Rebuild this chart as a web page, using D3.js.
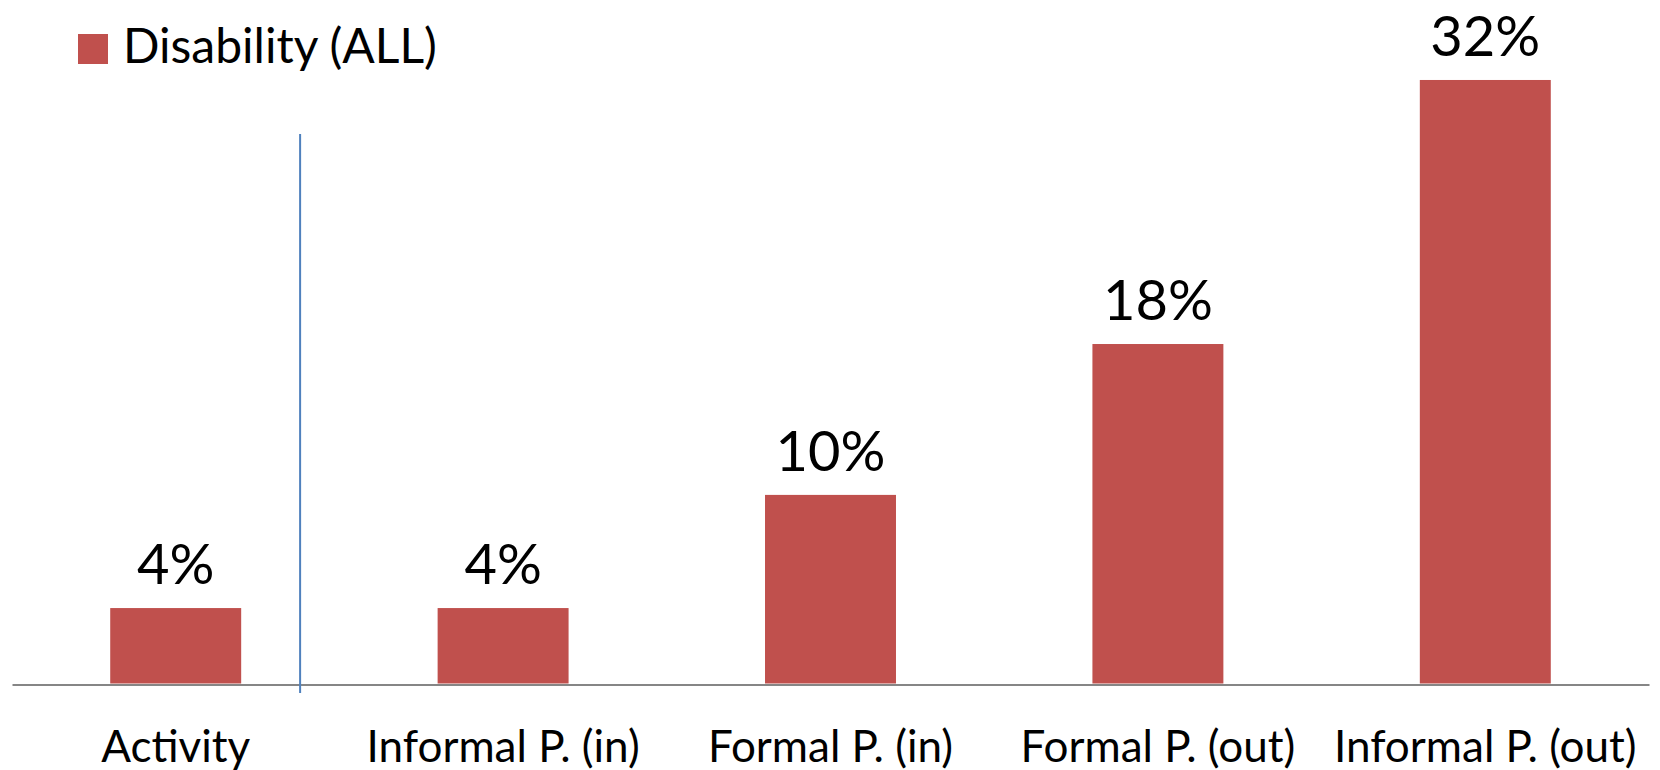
<!DOCTYPE html>
<html>
<head>
<meta charset="utf-8">
<script src="https://cdn.jsdelivr.net/npm/d3@7"></script>
<style>
  html, body { margin: 0; padding: 0; background: #ffffff; }
  svg { display: block; }
  text { font-family: Lato, "Open Sans", sans-serif; fill: #000; }
</style>
</head>
<body>
<svg id="chart" width="1660" height="770"></svg>
<script>
// Share of people with a disability, by activity / participation type
const categories = ["Activity", "Informal P. (in)", "Formal P. (in)", "Formal P. (out)", "Informal P. (out)"];
const values = [4, 4, 10, 18, 32];
const valueLabels = ["4%", "4%", "10%", "18%", "32%"];
const seriesName = "Disability (ALL)";

const W = 1660, H = 770;
const baseY = 683.5;
const barColor = "#C0504D";

const svg = d3.select("#chart");

const x = d3.scaleBand()
  .domain(categories)
  .range([12, 1649])
  .padding(0);

const y = d3.scaleLinear()
  .domain([0, 35])
  .range([baseY, baseY - 35 * 18.86]);

const barW = x.bandwidth() * 0.4;

// bars
svg.append("g")
  .selectAll("rect")
  .data(categories)
  .join("rect")
  .attr("x", d => x(d) + (x.bandwidth() - barW) / 2)
  .attr("y", (d, i) => y(values[i]))
  .attr("width", barW)
  .attr("height", (d, i) => y(0) - y(values[i]))
  .attr("fill", barColor);

// value labels above bars
svg.append("g")
  .selectAll("text")
  .data(categories)
  .join("text")
  .attr("x", d => x(d) + x.bandwidth() / 2)
  .attr("y", (d, i) => y(values[i]) - 24)
  .attr("text-anchor", "middle")
  .style("font-size", "56px")
  .text((d, i) => valueLabels[i]);

// category axis along the baseline
const xAxis = svg.append("g")
  .attr("transform", `translate(0,${y(0) + 1})`)
  .call(d3.axisBottom(x).tickSize(0).tickPadding(0));
xAxis.select(".domain")
  .attr("stroke", "#868686")
  .attr("stroke-width", 2);
xAxis.selectAll(".tick text")
  .attr("y", 77)
  .attr("dy", 0)
  .style("font-family", "Lato, 'Open Sans', sans-serif")
  .style("font-size", "44px")
  .attr("fill", "#000");

// separator between the activity and participation groups
const sepX = x(categories[0]) + x.bandwidth() * 0.88;
svg.append("line")
  .attr("x1", sepX).attr("x2", sepX)
  .attr("y1", 134).attr("y2", 693)
  .attr("stroke", "#4F81BD")
  .attr("stroke-width", 2);

// legend
const legend = svg.append("g").attr("transform", "translate(78,34)");
legend.append("rect")
  .attr("width", 30).attr("height", 30)
  .attr("fill", barColor);
legend.append("text")
  .attr("x", 45).attr("y", 29)
  .style("font-size", "48px")
  .text(seriesName);
</script>
</body>
</html>
